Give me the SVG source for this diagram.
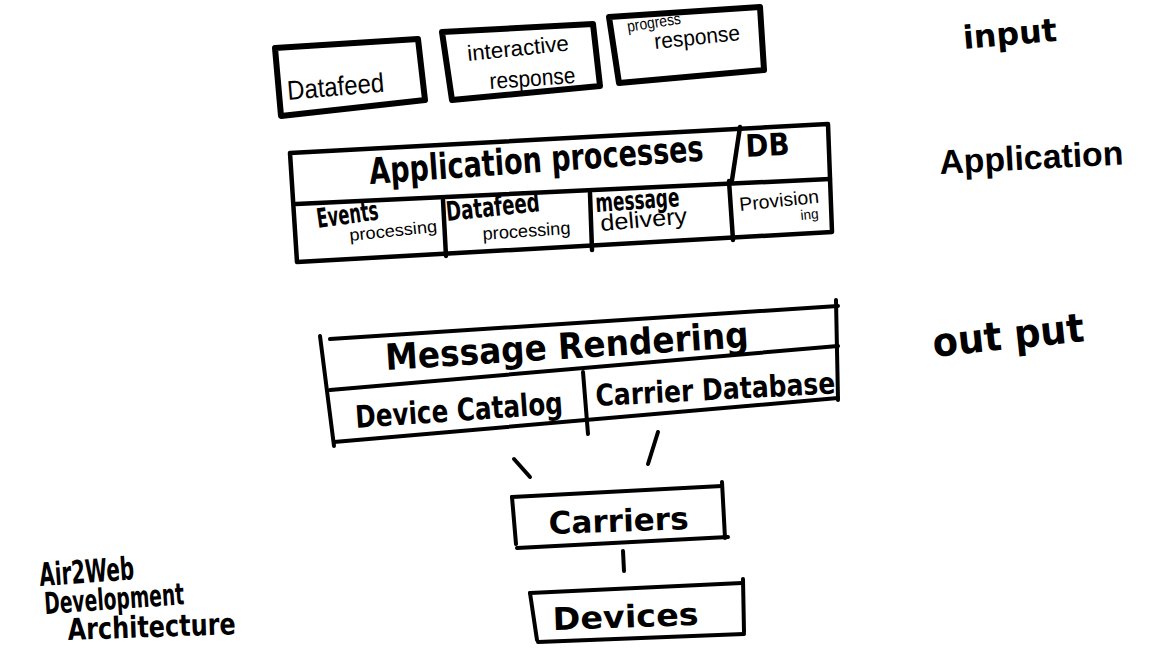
<svg xmlns="http://www.w3.org/2000/svg" width="1156" height="653" viewBox="0 0 1156 653">
<style>
.box{fill:none;stroke:#000;stroke-linejoin:round;stroke-linecap:round}
.thick{stroke-width:6}
.med{stroke-width:4.5}
.thin{stroke-width:4}
.conn{stroke:#000;stroke-width:4;stroke-linecap:round;fill:none}
.pen{font-family:"Liberation Sans","DejaVu Sans",sans-serif;font-weight:normal;fill:#000}
.mark{font-family:"DejaVu Sans","Liberation Sans",sans-serif;font-weight:bold;fill:#000}
.markn{font-family:"Liberation Sans","DejaVu Sans",sans-serif;font-weight:bold;fill:#000}
</style>
<rect width="1156" height="653" fill="#fff"/>

<g id="datafeed-input">
<polygon class="box thick" points="275,48 418,39 425,100 281,116"/>
<text class="pen" x="288" y="100" font-size="27" textLength="97" lengthAdjust="spacingAndGlyphs" transform="rotate(-5 288 100)">Datafeed</text>
</g>
<g id="interactive-response">
<polygon class="box thick" points="442,32 593,24 600,86 452,100"/>
<text class="pen" x="468" y="61" font-size="22" textLength="102" lengthAdjust="spacingAndGlyphs" transform="rotate(-6 468 61)">interactive</text>
<text class="pen" x="490" y="89" font-size="23" textLength="86" lengthAdjust="spacingAndGlyphs" transform="rotate(-4 490 89)">response</text>
</g>
<g id="progress-response">
<polygon class="box thick" points="609,17 760,7 764,70 619,83"/>
<text class="pen" x="628" y="32" font-size="16" textLength="54" lengthAdjust="spacingAndGlyphs" transform="rotate(-9 628 32)">progress</text>
<text class="pen" x="655" y="49" font-size="22" textLength="86" lengthAdjust="spacingAndGlyphs" transform="rotate(-6 655 49)">response</text>
</g>

<g id="application-processes">
<polygon class="box med" points="290,153 828,124 832,232 297,262"/>
<line class="box med" x1="296" y1="204" x2="830" y2="179"/>
<line class="box med" x1="740" y1="127" x2="732" y2="180"/>
<line class="box med" x1="443" y1="200" x2="446" y2="256"/>
<line class="box med" x1="590" y1="193" x2="592" y2="250"/>
<line class="box med" x1="729" y1="181" x2="733" y2="240"/>
<text class="mark" x="370" y="184" font-size="36" textLength="335" lengthAdjust="spacingAndGlyphs" transform="rotate(-4 370 184)">Application processes</text>
<text class="mark" x="746" y="157" font-size="31" textLength="44" lengthAdjust="spacingAndGlyphs" transform="rotate(-3 746 157)">DB</text>
</g>
<g id="events-processing">
<text class="mark" x="318" y="228" font-size="27" textLength="62" lengthAdjust="spacingAndGlyphs" transform="rotate(-8 318 228)">Events</text>
<text class="pen" x="350" y="241" font-size="17" textLength="88" lengthAdjust="spacingAndGlyphs" transform="rotate(-6 350 241)">processing</text>
</g>
<g id="datafeed-processing">
<text class="mark" x="447" y="221" font-size="27" textLength="94" lengthAdjust="spacingAndGlyphs" transform="rotate(-6 447 221)">Datafeed</text>
<text class="pen" x="483" y="240" font-size="18" textLength="88" lengthAdjust="spacingAndGlyphs" transform="rotate(-4 483 240)">processing</text>
</g>
<g id="message-delivery">
<text class="mark" x="596" y="212" font-size="26" textLength="84" lengthAdjust="spacingAndGlyphs" transform="rotate(-4 596 212)">message</text>
<text class="pen" x="601" y="231" font-size="23" textLength="87" lengthAdjust="spacingAndGlyphs" transform="rotate(-5 601 231)">delivery</text>
</g>
<g id="provisioning">
<text class="pen" x="740" y="211" font-size="19" textLength="80" lengthAdjust="spacingAndGlyphs" transform="rotate(-6 740 211)">Provision</text>
<text class="pen" x="801" y="220" font-size="14" textLength="18" lengthAdjust="spacingAndGlyphs" transform="rotate(-6 801 220)">ing</text>
</g>

<g id="message-rendering">
<line class="box thin" x1="320" y1="336" x2="334" y2="446"/>
<line class="box thin" x1="330" y1="339" x2="838" y2="306"/>
<line class="box thin" x1="836" y1="300" x2="838" y2="400"/>
<line class="box thin" x1="330" y1="390" x2="838" y2="346"/>
<line class="box thin" x1="334" y1="442" x2="838" y2="398"/>
<line class="box thin" x1="583" y1="372" x2="588" y2="434"/>
<text class="mark" x="386" y="370" font-size="36" textLength="364" lengthAdjust="spacingAndGlyphs" transform="rotate(-3.6 386 370)">Message Rendering</text>
</g>
<g id="device-catalog">
<text class="mark" x="356" y="428" font-size="31" textLength="208" lengthAdjust="spacingAndGlyphs" transform="rotate(-4 356 428)">Device Catalog</text>
</g>
<g id="carrier-database">
<text class="mark" x="596" y="406" font-size="30" textLength="240" lengthAdjust="spacingAndGlyphs" transform="rotate(-3 596 406)">Carrier Database</text>
</g>

<g id="connectors">
<line class="conn" x1="514" y1="459" x2="530" y2="477"/>
<line class="conn" x1="658" y1="432" x2="648" y2="464"/>
<line class="conn" x1="623" y1="551" x2="624" y2="571"/>
</g>

<g id="carriers">
<line class="box thin" x1="512" y1="497" x2="722" y2="486"/>
<line class="box thin" x1="722" y1="482" x2="725" y2="538"/>
<line class="box thin" x1="517" y1="548" x2="728" y2="537"/>
<line class="box thin" x1="512" y1="497" x2="516" y2="544"/>
<text class="mark" x="549" y="534" font-size="31" textLength="140" lengthAdjust="spacingAndGlyphs" transform="rotate(-2 549 534)">Carriers</text>
</g>
<g id="devices">
<line class="box thin" x1="530" y1="593" x2="742" y2="583"/>
<line class="box thin" x1="743" y1="579" x2="744" y2="632"/>
<line class="box thin" x1="538" y1="642" x2="744" y2="634"/>
<line class="box thin" x1="530" y1="593" x2="537" y2="640"/>
<text class="mark" x="553" y="630" font-size="31" textLength="146" lengthAdjust="spacingAndGlyphs" transform="rotate(-2 553 630)">Devices</text>
</g>

<g id="title">
<text class="mark" x="40" y="586" font-size="32" textLength="95" lengthAdjust="spacingAndGlyphs" transform="rotate(-4 40 586)">Air2Web</text>
<text class="mark" x="45" y="614" font-size="30" textLength="140" lengthAdjust="spacingAndGlyphs" transform="rotate(-4 45 614)">Development</text>
<text class="mark" x="68" y="640" font-size="30" textLength="168" lengthAdjust="spacingAndGlyphs" transform="rotate(-2 68 640)">Architecture</text>
</g>
<g id="layer-labels">
<text class="mark" x="964" y="49" font-size="32" textLength="94" lengthAdjust="spacingAndGlyphs" transform="rotate(-5 964 49)">input</text>
<text class="markn" x="940" y="174" font-size="34" textLength="184" lengthAdjust="spacingAndGlyphs" transform="rotate(-3 940 174)">Application</text>
<text class="mark" x="934" y="357" font-size="40" textLength="152" lengthAdjust="spacingAndGlyphs" transform="rotate(-6 934 357)">out put</text>
</g>
</svg>
